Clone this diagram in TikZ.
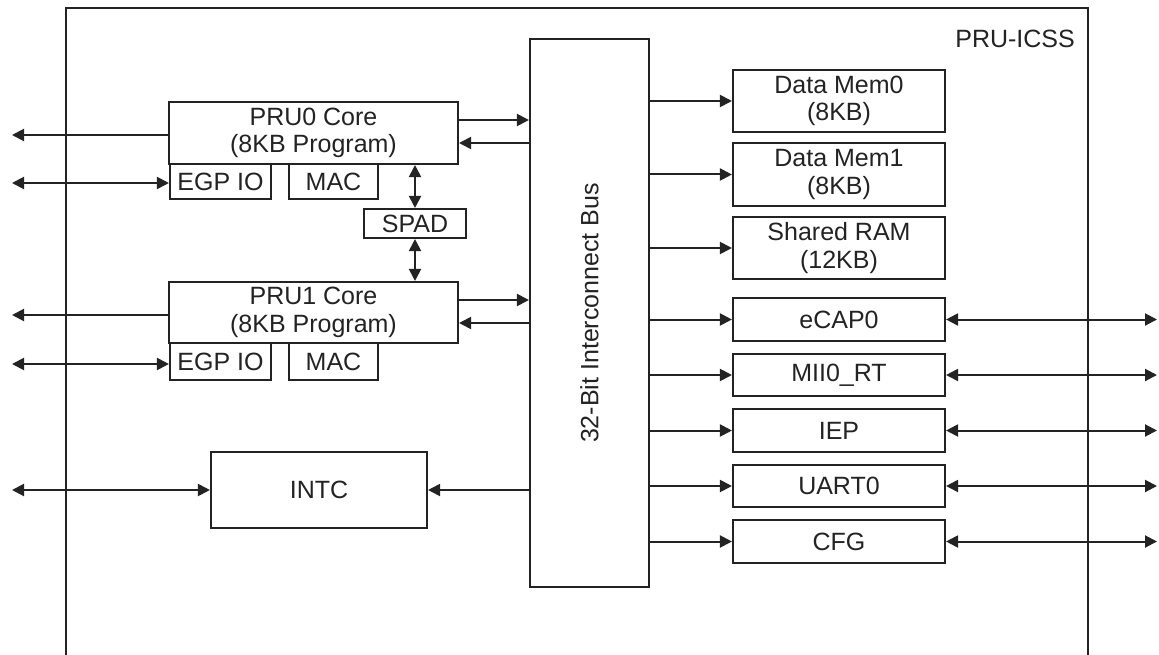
\documentclass[tikz,border=0pt]{standalone}
\usepackage{fontspec}
\setmainfont{Liberation Sans}
\usetikzlibrary{arrows.meta}
\definecolor{ink}{RGB}{35,35,35}
\begin{document}
\begin{tikzpicture}[x=1pt,y=-1pt,
  font=\fontsize{25}{27.5}\selectfont,
  box/.style={draw=ink, line width=2.1pt, inner sep=0pt, text=ink, align=center},
  tipA/.tip={Triangle[length=12pt,width=12pt]},
  arr/.style={draw=ink, line width=2pt, -tipA},
  arrboth/.style={draw=ink, line width=2pt, tipA-tipA}]
\useasboundingbox (0,0) rectangle (1159,655);
\fill[white] (0,0) rectangle (1159,655);
% outer frame (open at bottom)
\draw[ink, line width=2.5pt] (66,655) -- (66,8) -- (1088,8) -- (1088,655);
\node[anchor=base east, text=ink, inner sep=0pt] (title) at (1075,48) {PRU-ICSS};

% left-hand blocks
\node[box, minimum width=289pt, minimum height=62pt] (pru0) at (313.5,133) {PRU0 Core\\(8KB Program)};
\node[box, minimum width=101pt, minimum height=35pt] (egp0) at (220.5,181.5) {EGP IO};
\node[box, minimum width=89pt, minimum height=35pt] (mac0) at (333.5,181.5) {MAC};
\node[box, minimum width=102pt, minimum height=29pt] (spad) at (415,223.5) {SPAD};
\node[box, minimum width=289pt, minimum height=61pt] (pru1) at (313.5,312.5) {PRU1 Core\\(8KB Program)};
\node[box, minimum width=101pt, minimum height=37pt] (egp1) at (220.5,361.5) {EGP IO};
\node[box, minimum width=89pt, minimum height=37pt] (mac1) at (333.5,361.5) {MAC};
\node[box, minimum width=216pt, minimum height=76pt] (intc) at (319,490) {INTC};

% bus
\node[box, minimum width=119pt, minimum height=548pt] (bus) at (589.5,313) {};
\node[rotate=90, text=ink, inner sep=0pt] (buslabel) at (bus.center) {32-Bit Interconnect Bus};

% right-hand blocks
\node[box, minimum width=212pt, minimum height=62pt] (dm0) at (839,101) {Data Mem0\\(8KB)};
\node[box, minimum width=212pt, minimum height=63pt] (dm1) at (839,174.5) {Data Mem1\\(8KB)};
\node[box, minimum width=212pt, minimum height=62pt] (sram) at (839,248) {Shared RAM\\(12KB)};
\node[box, minimum width=212pt, minimum height=43pt] (ecap) at (839,319.5) {eCAP0};
\node[box, minimum width=212pt, minimum height=42pt] (mii) at (839,375) {MII0\_RT};
\node[box, minimum width=212pt, minimum height=43pt] (iep) at (839,430.5) {IEP};
\node[box, minimum width=212pt, minimum height=42pt] (uart) at (839,486) {UART0};
\node[box, minimum width=212pt, minimum height=43pt] (cfg) at (839,541.5) {CFG};

% helper coordinates for free ends
\coordinate (Lx) at (12,0);
\coordinate (Rx) at (1157,0);

% PRU0 <-> bus
\coordinate (p0o) at ([yshift=13pt]pru0.east);
\coordinate (p0i) at ([yshift=-10pt]pru0.east);
\draw[arr] (p0o) -- (p0o -| bus.west);
\draw[arr] (p0i -| bus.west) -- (p0i);
% PRU1 <-> bus
\coordinate (p1o) at ([yshift=12.5pt]pru1.east);
\coordinate (p1i) at ([yshift=-10.5pt]pru1.east);
\draw[arr] (p1o) -- (p1o -| bus.west);
\draw[arr] (p1i -| bus.west) -- (p1i);

% outgoing left arrows
\coordinate (p0w) at ([yshift=-2pt]pru0.west);
\coordinate (p1w) at ([yshift=-2.5pt]pru1.west);
\draw[arr] (p0w) -- (p0w -| Lx);
\draw[arr] (p1w) -- (p1w -| Lx);
\coordinate (e0w) at ([yshift=-1.5pt]egp0.west);
\coordinate (e1w) at ([yshift=-2.5pt]egp1.west);
\draw[arrboth] (e0w -| Lx) -- (e0w);
\draw[arrboth] (e1w -| Lx) -- (e1w);
\draw[arrboth] (intc.west -| Lx) -- (intc.west);

% SPAD links
\draw[arrboth] (spad.north |- pru0.south) -- (spad.north);
\draw[arrboth] (spad.south) -- (spad.south |- pru1.north);

% bus -> INTC
\draw[arr] (intc.east -| bus.west) -- (intc.east);

% bus -> right blocks
\foreach \n in {dm0,dm1,sram,ecap,mii,iep,uart,cfg}{
  \draw[arr] (\n.west -| bus.east) -- (\n.west);
}
% right external links
\foreach \n in {ecap,mii,iep,uart,cfg}{
  \draw[arrboth] (\n.east) -- (\n.east -| Rx);
}
\end{tikzpicture}
\end{document}
